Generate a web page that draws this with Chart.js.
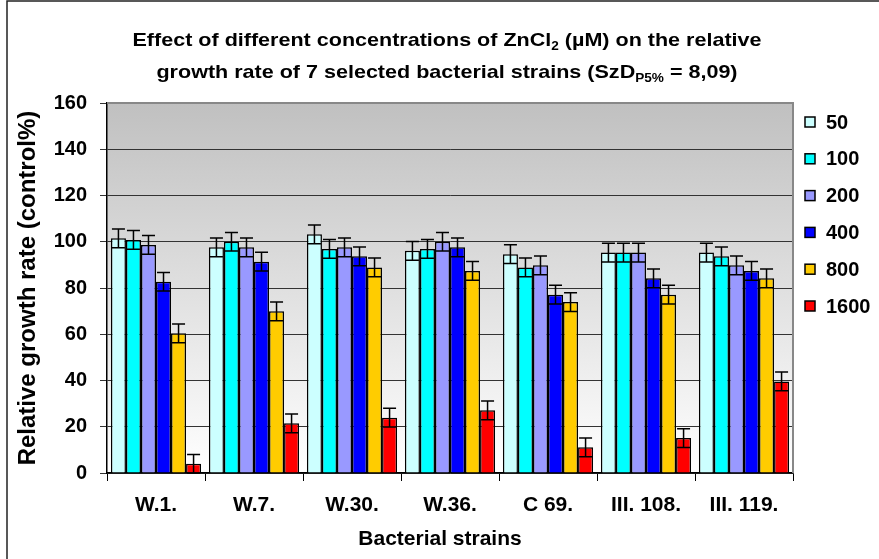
<!DOCTYPE html>
<html>
<head>
<meta charset="utf-8">
<script src="https://cdn.jsdelivr.net/npm/chart.js@4/dist/chart.umd.min.js"></script>
<style>
	html, body { margin: 0; padding: 0; background: #fff; }
	#wrap { width: 879px; height: 559px; }
</style>
</head>
<body>
<div id="wrap"><canvas id="growthChart" width="879" height="559"></canvas></div>
<script>
// data
const strains = ['W.1.', 'W.7.', 'W.30.', 'W.36.', 'C 69.', 'III. 108.', 'III. 119.'];
const concentrations = ['50', '100', '200', '400', '800', '1600'];
const growth50 = [101.5, 97.6, 103.2, 96.1, 94.6, 95.3, 95.3];
const growth100 = [100.8, 100.0, 96.9, 96.9, 88.9, 95.3, 93.7];
const growth200 = [98.6, 97.6, 97.6, 100.0, 89.8, 95.3, 89.8];
const growth400 = [82.7, 91.4, 93.7, 97.6, 77.1, 84.2, 87.4];
const growth800 = [60.4, 69.9, 88.9, 87.4, 73.9, 77.1, 84.2];
const growth1600 = [4.0, 21.5, 23.9, 27.1, 11.1, 15.1, 39.6];
const errHalf = 4.05; // SzD P5% / 2
const barColors = ['#CCFFFF', '#00FFFF', '#9999FF', '#0000FF', '#FFCC00', '#FF0000'];

const titleLine1 = [['Effect of different concentrations of ZnCl', 0], ['2', 1], [' (\u00b5M) on the relative', 0]];
const titleLine2 = [['growth rate of 7 selected bacterial strains (SzD', 0], ['P5%', 1], [' = 8,09)', 0]];

const FAM = '"Liberation Sans", Arial, sans-serif';
const TITLEFONT = 'bold 19px ' + FAM;
const SUBFONT = 'bold 12px ' + FAM;

function runsWidth(ctx, runs) {
	let total = 0;
	runs.forEach(function(r) {
		ctx.font = r[1] ? SUBFONT : TITLEFONT;
		total += ctx.measureText(r[0]).width;
	});
	return total;
}

function drawRuns(ctx, runs, cx, y, sx) {
	let total = runsWidth(ctx, runs);
	ctx.save();
	ctx.translate(cx, y);
	ctx.scale(sx, 1);
	let x = -total / 2;
	runs.forEach(function(r) {
		ctx.font = r[1] ? SUBFONT : TITLEFONT;
		ctx.fillText(r[0], x, r[1] ? 4 : 0);
		x += ctx.measureText(r[0]).width;
	});
	ctx.restore();
}

const decorPlugin = {
	id: 'decor',
	beforeDraw: function(chart) {
		const ctx = chart.ctx, a = chart.chartArea;
		ctx.save();
		ctx.fillStyle = '#fff';
		ctx.fillRect(0, 0, chart.width, chart.height);
		let g = ctx.createLinearGradient(0, a.top, 0, a.bottom);
		g.addColorStop(0, '#c0c0c0');
		g.addColorStop(1, '#ffffff');
		ctx.fillStyle = g;
		ctx.fillRect(a.left, a.top, a.right - a.left, a.bottom - a.top);
		// outer frame
		ctx.strokeStyle = '#222';
		ctx.lineWidth = 1.5;
		ctx.beginPath();
		ctx.moveTo(7, chart.height);
		ctx.lineTo(7, 1);
		ctx.lineTo(chart.width, 1);
		ctx.stroke();
		ctx.restore();
	},
	beforeDatasetsDraw: function(chart) {
		const ctx = chart.ctx, a = chart.chartArea;
		ctx.save();
		ctx.strokeStyle = '#888';
		ctx.lineWidth = 2;
		ctx.beginPath();
		ctx.moveTo(a.left, a.top);
		ctx.lineTo(a.right, a.top);
		ctx.lineTo(a.right, a.bottom);
		ctx.stroke();
		ctx.restore();
	},
	afterDatasetsDraw: function(chart) {
		const ctx = chart.ctx, y = chart.scales.y;
		ctx.save();
		ctx.strokeStyle = '#000';
		ctx.lineWidth = 1.5;
		chart.data.datasets.forEach(function(ds, i) {
			chart.getDatasetMeta(i).data.forEach(function(bar, j) {
				let v = ds.data[j];
				let yt = y.getPixelForValue(v + errHalf), yb = y.getPixelForValue(v - errHalf);
				ctx.beginPath();
				ctx.moveTo(bar.x, yt); ctx.lineTo(bar.x, yb);
				ctx.moveTo(bar.x - 6.5, yt); ctx.lineTo(bar.x + 6.5, yt);
				ctx.moveTo(bar.x - 6.5, yb); ctx.lineTo(bar.x + 6.5, yb);
				ctx.stroke();
			});
		});
		ctx.restore();
	},
	afterDraw: function(chart) {
		const ctx = chart.ctx;
		ctx.save();
		ctx.fillStyle = '#000';
		ctx.textBaseline = 'alphabetic';
		ctx.textAlign = 'left';
		let sx = 629 / runsWidth(ctx, titleLine1);
		drawRuns(ctx, titleLine1, 447, 46, sx);
		drawRuns(ctx, titleLine2, 447, 78, sx);
		// legend
		ctx.textBaseline = 'middle';
		chart.data.datasets.forEach(function(ds, i) {
			let cy = 122 + i * 36.8;
			ctx.fillStyle = ds.backgroundColor;
			ctx.fillRect(805, cy - 5, 10, 10);
			ctx.strokeStyle = '#000';
			ctx.lineWidth = 1.5;
			ctx.strokeRect(805, cy - 5, 10, 10);
			ctx.fillStyle = '#000';
			ctx.font = 'bold 20px ' + FAM;
			ctx.fillText(ds.label, 826, cy + 1);
		});
		ctx.textAlign = 'center';
		ctx.font = 'bold 21px ' + FAM;
		ctx.fillText('Bacterial strains', 440, 539);
		ctx.restore();
	}
};

const seriesData = [growth50, growth100, growth200, growth400, growth800, growth1600];

new Chart(document.getElementById('growthChart'), {
	type: 'bar',
	plugins: [decorPlugin],
	data: {
		labels: strains,
		datasets: concentrations.map(function(c, i) {
			return {
				label: c,
				data: seriesData[i],
				backgroundColor: barColors[i],
				borderColor: '#000',
				borderWidth: 1.5,
				categoryPercentage: 0.92,
				barPercentage: 1.0
			};
		})
	},
	options: {
		responsive: false,
		animation: false,
		layout: { padding: { left: 0, right: 86, top: 103, bottom: 0 } },
		plugins: {
			legend: { display: false },
			title: { display: false },
			tooltip: { enabled: false }
		},
		scales: {
			x: {
				afterFit: function(s) { s.height = 86; },
				grid: { offset: true, drawOnChartArea: false, tickLength: 8, color: '#000', lineWidth: 1 },
				border: { color: '#000', width: 1.5 },
				ticks: { color: '#000', font: { family: FAM, size: 21, weight: 'bold' }, padding: 12, maxRotation: 0, autoSkip: false }
			},
			y: {
				min: 0,
				max: 160,
				afterFit: function(s) { s.width = 107; },
				grid: { color: '#333', lineWidth: 1, tickLength: 7 },
				border: { color: '#000', width: 1.5 },
				ticks: { stepSize: 20, color: '#000', padding: 13, font: { family: FAM, size: 20, weight: 'bold' } },
				title: {
					display: true,
					text: 'Relative growth rate (control%)',
					color: '#000',
					font: { family: FAM, size: 24, weight: 'bold' },
					padding: { top: 14, bottom: 0 }
				}
			}
		}
	}
});
</script>
</body>
</html>
